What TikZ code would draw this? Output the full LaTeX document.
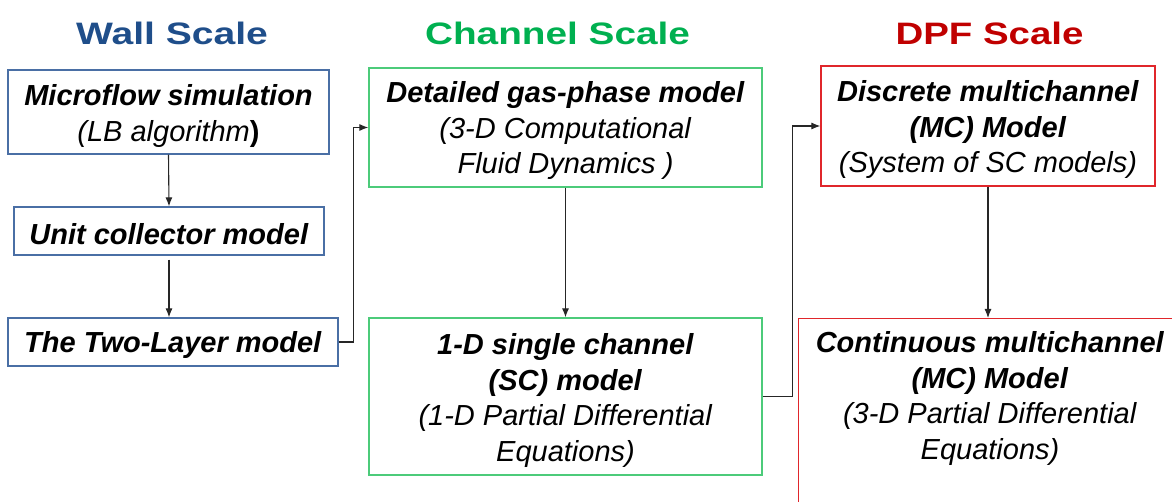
\documentclass[tikz,border=0pt]{standalone}
\usepackage{fontspec}
\setmainfont{Liberation Sans}
\usepackage{graphicx}
\usetikzlibrary{arrows.meta}
\definecolor{wallblue}{HTML}{1F4E8A}
\definecolor{wallbox}{HTML}{4A6FA5}
\definecolor{chgreen}{HTML}{00B050}
\definecolor{chbox}{HTML}{4CCB7A}
\definecolor{dpfred}{HTML}{C00000}
\definecolor{dpfbox}{HTML}{E0262B}
\tikzset{
  boxbase/.style={draw, line width=1.2pt, inner sep=0pt},
  wallbx/.style={boxbase, draw=wallbox},
  chbx/.style={boxbase, draw=chbox},
  dpfbx/.style={boxbase, draw=dpfbox},
  title/.style={anchor=base, font=\fontsize{31}{36}\selectfont\bfseries},
  arr/.style={draw=black!85, line width=1.1pt, -{Latex[length=9pt,width=7pt]}},
  lbl/.style={align=center, inner sep=0pt, font=\fontsize{29}{35.5}\selectfont}
}
\begin{document}
\begin{tikzpicture}[x=1pt,y=-1pt]
\useasboundingbox (0,0) rectangle (1172,502);
\clip (0,0) rectangle (1172,502);
% titles
\node[title, text=wallblue] (t1) at (172,45) {\scalebox{1.26}[1]{Wall Scale}};
\node[title, text=chgreen] (t2) at (557.5,45) {\scalebox{1.25}[1]{Channel Scale}};
\node[title, text=dpfred] (t3) at (989.5,45) {\scalebox{1.24}[1]{DPF Scale}};
% wall scale
\node[wallbx, minimum width=321pt, minimum height=84pt] (mf) at (168.5,112) {};
\node[lbl] (mft) at (168.5,116)
  {\textbf{\textit{Microflow simulation}}\\[1pt]\textit{(LB algorithm}\textbf{)}};
\node[wallbx, minimum width=310pt, minimum height=48pt] (uc) at (169,231) {};
\node[lbl] (uct) at (169,234) {\textbf{\textit{Unit collector model}}};
\node[wallbx, minimum width=330pt, minimum height=48pt] (tl) at (173,342) {};
\node[lbl] (tlt) at (173,345) {\textbf{\textit{The Two-Layer model}}};
% channel scale
\node[chbx, minimum width=393pt, minimum height=119pt] (det) at (565.5,127.5) {};
\node[lbl] (dett) at (565.5,131)
  {\textbf{\textit{Detailed gas-phase model}}\\\textit{(3-D Computational}\\\textit{Fluid Dynamics )}};
\node[chbx, minimum width=393pt, minimum height=157pt] (sc) at (565.5,396.5) {};
\node[lbl] (sct) at (565.5,400.5)
  {\textbf{\textit{1-D single channel}}\\\textbf{\textit{(SC) model}}\\\textit{(1-D Partial Differential}\\\textit{Equations)}};
% dpf scale
\node[dpfbx, minimum width=334pt, minimum height=120pt] (disc) at (988,126) {};
\node[lbl] (disct) at (988,130)
  {\textbf{\textit{Discrete multichannel}}\\\textbf{\textit{(MC) Model}}\\\textit{(System of SC models)}};
\node[dpfbx, minimum width=452pt, minimum height=200pt, anchor=north west] (contbox) at (798,318) {};
\node[lbl] (cont) at (990,398.5)
  {\textbf{\textit{Continuous multichannel}}\\\textbf{\textit{(MC) Model}}\\\textit{(3-D Partial Differential}\\\textit{Equations)}};
% connectors
\draw[arr] (mf.south) -- (uc.north);
\draw[arr] ([yshift=-4pt]uc.south) -- (uc.south |- tl.north);
\draw[arr] (tl.east) -- ++(15,0) |- (det.west);
\draw[arr] (det.south) -- (sc.north);
\draw[arr] (sc.east) -- ++(30,0) |- (disc.west);
\draw[arr] (disc.south) -- (disc.south |- contbox.north);
\end{tikzpicture}
\end{document}
